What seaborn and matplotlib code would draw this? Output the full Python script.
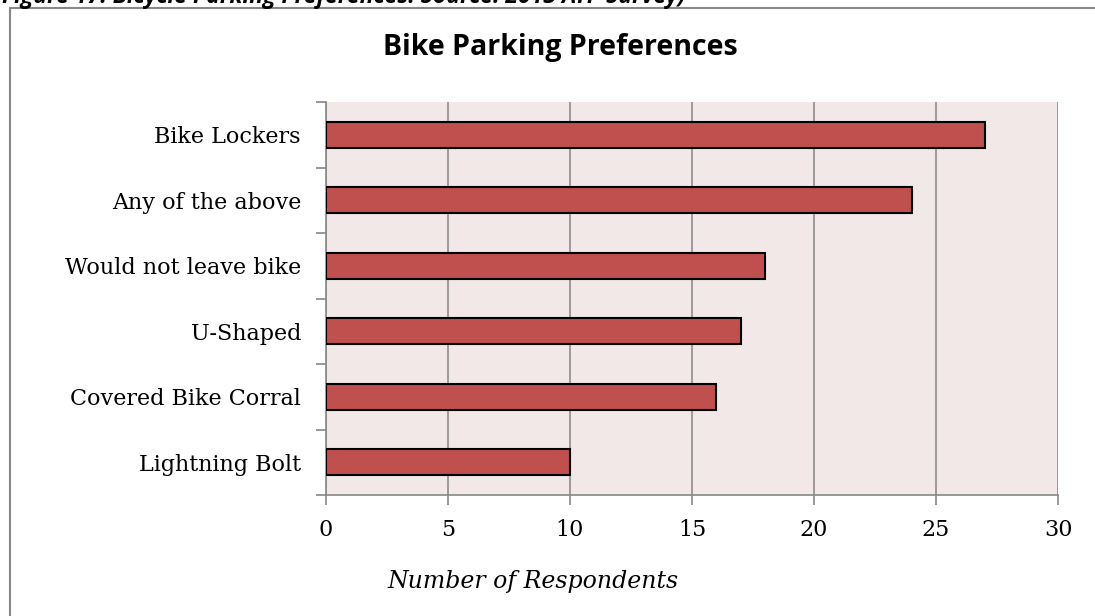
import matplotlib
matplotlib.use("Agg")
import matplotlib.pyplot as plt
import seaborn as sns
import pandas as pd
from matplotlib.patches import Rectangle

categories = ["Bike Lockers", "Any of the above", "Would not leave bike",
              "U-Shaped", "Covered Bike Corral", "Lightning Bolt"]
values = [27, 24, 18, 17, 16, 10]
x_ticks = [0, 5, 10, 15, 20, 25, 30]

df = pd.DataFrame({"category": categories, "count": values})

sns.set_theme(style="white")
plt.rcParams['font.family'] = ['DejaVu Serif']
plt.rcParams['text.color'] = 'black'
plt.rcParams['xtick.color'] = 'black'
plt.rcParams['ytick.color'] = 'black'

fig = plt.figure(figsize=(10.95, 6.16), dpi=100)
ax = fig.add_axes([326/1095, 1-495/616, (1058-326)/1095, (495-102)/616])

sns.barplot(data=df, x="count", y="category", order=categories, orient="h",
            color="#C0504D", saturation=1, width=0.4, edgecolor="black",
            linewidth=1.5, ax=ax, zorder=3)

ax.set_facecolor("#F2E8E8")
ax.set_xlim(0, 30)
ax.set_ylim(len(categories) - 0.5, -0.5)
ax.set_xticks(x_ticks)
ax.set_xticklabels([str(t) for t in x_ticks], fontsize=16, family="DejaVu Serif", color="black")
ax.set_yticks(range(len(categories)))
ax.set_yticklabels(categories, fontsize=16, family="DejaVu Serif", color="black")
ax.set_yticks([i - 0.5 for i in range(len(categories) + 1)], minor=True)
ax.tick_params(axis="y", which="major", length=0, pad=18)
ax.tick_params(axis="y", which="minor", length=7, width=1.2, color="#888888", direction="out", left=True)
ax.tick_params(axis="x", which="major", length=7, width=1.2, color="#888888", direction="out", bottom=True, pad=10)
ax.xaxis.grid(True, color="#8c8c8c", linewidth=1.2, zorder=0)
ax.set_axisbelow(True)
for s in ["top", "right"]:
    ax.spines[s].set_visible(False)
for s in ["left", "bottom"]:
    ax.spines[s].set_color("#888888")
    ax.spines[s].set_linewidth(1.2)
ax.set_xlabel("")
ax.set_ylabel("")

fig.text(533/1095, 1-588/616, "Number of Respondents", ha="center", va="baseline",
         fontsize=17, style="italic", family="DejaVu Serif", color="black")
fig.text(560/1095, 1-55/616, "Bike Parking Preferences", ha="center", va="baseline",
         fontsize=20.5, weight="bold", family="Open Sans", color="black")
fig.text(2/1095, 1-(-3)/616, "Figure 17: Bicycle Parking Preferences. Source: 2013 ATP Survey)",
         ha="left", va="center", fontsize=16.5, weight="bold", style="italic", family="Open Sans",
         color="black")

fig.patches.append(Rectangle((10/1095, -0.1), 1.2, 1 - 8/616 + 0.1, transform=fig.transFigure,
                             fill=False, edgecolor="#888888", linewidth=1.5))

fig.savefig("out.png", dpi=100)
